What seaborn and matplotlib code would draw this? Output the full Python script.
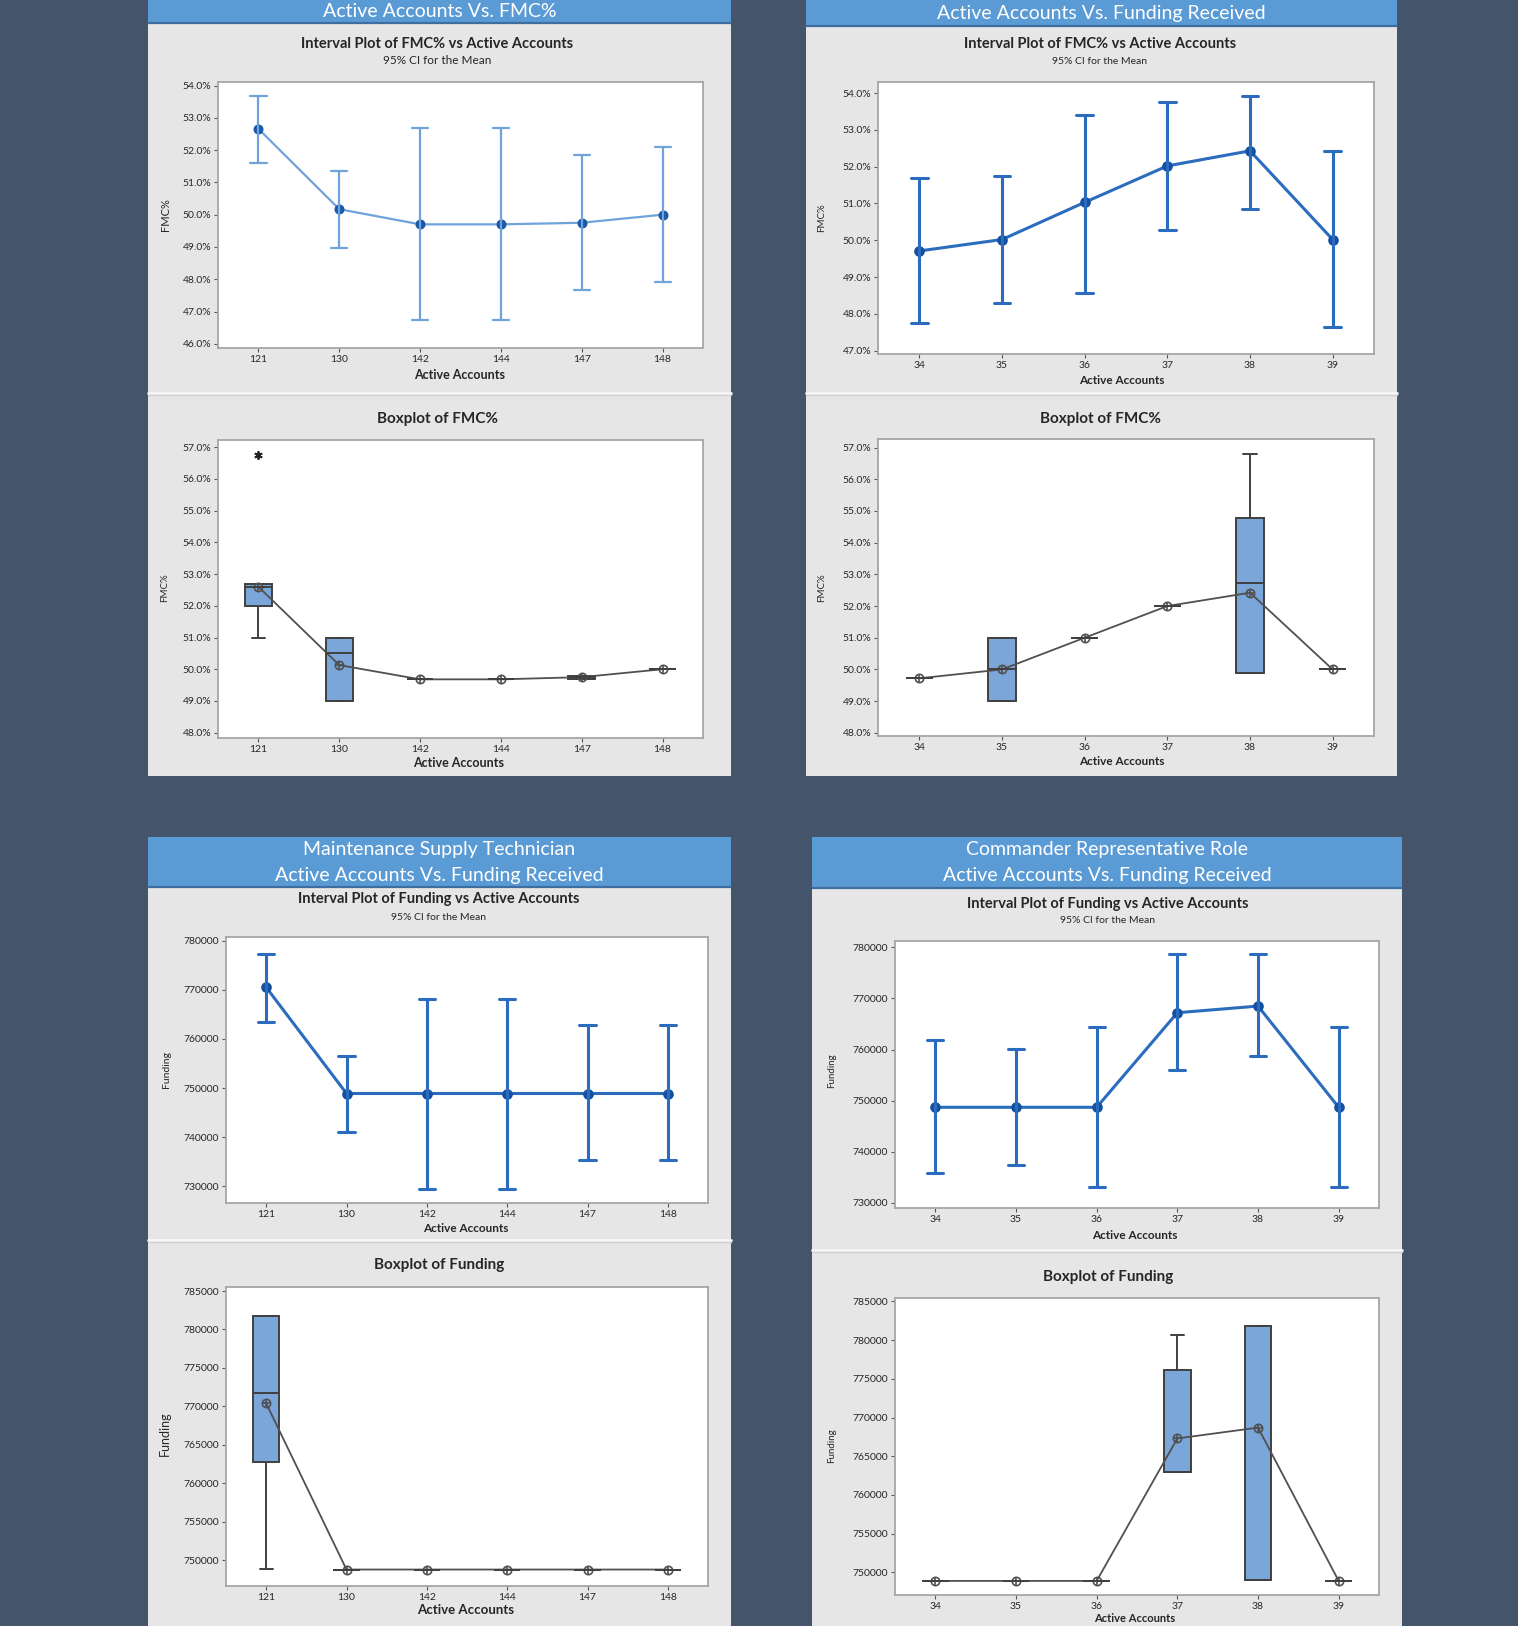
import numpy as np
import pandas as pd
import matplotlib
matplotlib.use("Agg")
import matplotlib.pyplot as plt
import seaborn as sns
from matplotlib.patches import Rectangle
from matplotlib.lines import Line2D
from matplotlib.ticker import FuncFormatter

# ------------------------------------------------------------------ data
accts_a = ["121", "130", "142", "144", "147", "148"]
accts_b = ["34", "35", "36", "37", "38", "39"]

# Interval plots (95% CI for the mean)
fmc_a_mean = [52.66, 50.17, 49.70, 49.70, 49.75, 50.00]
fmc_a_lo = [51.61, 48.96, 46.74, 46.74, 47.67, 47.92]
fmc_a_hi = [53.67, 51.36, 52.68, 52.68, 51.86, 52.11]

fmc_b_mean = [49.71, 50.02, 51.03, 52.02, 52.43, 50.02]
fmc_b_lo = [47.74, 48.29, 48.56, 50.29, 50.85, 47.63]
fmc_b_hi = [51.69, 51.74, 53.41, 53.75, 53.92, 52.42]

fund_a_mean = [770500, 748900, 748900, 748900, 748900, 748900]
fund_a_lo = [763500, 741100, 729500, 729500, 735300, 735300]
fund_a_hi = [777200, 756600, 768100, 768100, 762800, 762800]

fund_b_mean = [748700, 748700, 748700, 767200, 768500, 748700]
fund_b_lo = [735800, 737400, 733100, 755900, 758700, 733100]
fund_b_hi = [761800, 760200, 764500, 778600, 778600, 764500]

# Boxplot observations (one list per Active Accounts value) and means
fmc_a_obs = [[51.0, 52.0, 52.6, 52.7, 56.75],
             [49.0, 49.0, 50.5, 51.0, 51.0],
             [49.68],
             [49.68],
             [49.7, 49.7, 49.75, 49.8, 49.8],
             [50.0]]
fmc_a_box_mean = [52.6, 50.13, 49.68, 49.68, 49.75, 50.0]

fmc_b_obs = [[49.72],
             [49.0, 49.0, 50.0, 51.0, 51.0],
             [51.0],
             [52.0],
             [49.9, 49.9, 52.72, 54.79, 56.79],
             [50.0]]
fmc_b_box_mean = [49.72, 50.0, 51.0, 52.0, 52.42, 50.0]

fund_a_obs = [[748900, 762800, 771800, 781700, 781700],
              [748800], [748800], [748800], [748800], [748800]]
fund_a_box_mean = [770400, 748800, 748800, 748800, 748800, 748800]

fund_b_obs = [[748900], [748900], [748900],
              [763000, 763000, 763000, 776200, 780700],
              [749000, 749000, 749000, 781800, 781800],
              [748900]]
fund_b_box_mean = [748900, 748900, 748900, 767300, 768700, 748900]

# ------------------------------------------------------------------ style
W, H = 1518, 1626
BG = "#44546A"
HEAD = "#5B9BD5"
PANEL = "#E6E6E6"
BOXFILL = "#7BA6DA"
BOXEDGE = "#404040"
MEANLINE = "#505050"
TXT = "#262626"

sns.set_theme(style="white")
plt.rcParams["font.family"] = ["Lato", "DejaVu Sans"]

fig = plt.figure(figsize=(W / 100, H / 100), dpi=100, facecolor=BG)


def frect(x0, y0, x1, y1):
    return [x0 / W, 1 - y1 / H, (x1 - x0) / W, (y1 - y0) / H]


def ftext(x, y, s, **kw):
    kw.setdefault("ha", "center")
    kw.setdefault("va", "center")
    fig.text(x / W, 1 - y / H, s, **kw)


def hline(x0, x1, y, color, lw):
    fig.add_artist(Line2D([x0 / W, x1 / W], [1 - y / H, 1 - y / H],
                          color=color, lw=lw, transform=fig.transFigure))


def panel(x0, x1, y0, yhead, y1, divider, head_lines, head_ys):
    fig.add_artist(Rectangle((x0 / W, 1 - y1 / H), (x1 - x0) / W, (y1 - yhead) / H,
                             transform=fig.transFigure, facecolor=PANEL,
                             edgecolor="none", zorder=0))
    fig.add_artist(Rectangle((x0 / W, 1 - yhead / H), (x1 - x0) / W, (yhead - y0) / H,
                             transform=fig.transFigure, facecolor=HEAD,
                             edgecolor="none", zorder=0))
    hline(x0, x1, yhead, "#3E6E9F", 1.6)
    hline(x0, x1, divider, "#F6F6F6", 2.0)
    hline(x0, x1, divider + 2, "#CFCFCF", 1.0)
    cx = (x0 + x1) / 2
    for s, yy in zip(head_lines, head_ys):
        ftext(cx, yy, s, color="white", fontsize=14)


pct_fmt = FuncFormatter(lambda v, p: f"{v:.1f}%")
num_fmt = FuncFormatter(lambda v, p: f"{v:.0f}")


def style_ax(ax, ylim, yticks, fmt):
    ax.set_facecolor("white")
    ax.set_xlim(-0.5, 5.5)
    ax.set_ylim(*ylim)
    ax.set_yticks(yticks)
    ax.yaxis.set_major_formatter(fmt)
    ax.set_xlabel("")
    ax.set_ylabel("")
    ax.grid(False)
    for s in ax.spines.values():
        s.set_color("#A6A6A6")
        s.set_linewidth(1.3)
    ax.tick_params(axis="both", length=3, width=0.8, color="#555555",
                   labelsize=7.5, labelcolor=TXT, pad=2, bottom=True, left=True)


def interval_ax(rect, cats, lo, mean, hi, ylim, yticks, fmt, lcolor, mcolor, lw):
    ax = fig.add_axes(frect(*rect))
    df = pd.DataFrame({
        "acct": np.repeat(cats, 3),
        "val": np.column_stack([lo, mean, hi]).ravel(),
    })
    sns.pointplot(data=df, x="acct", y="val", order=cats, estimator="median",
                  errorbar=("pi", 100), capsize=0.2, color=lcolor, markers="o",
                  markersize=6, markerfacecolor=mcolor, markeredgecolor=mcolor,
                  linewidth=lw, err_kws={"linewidth": lw, "color": lcolor}, ax=ax)
    style_ax(ax, ylim, yticks, fmt)
    return ax


def box_ax(rect, cats, obs, means, ylim, yticks, fmt):
    ax = fig.add_axes(frect(*rect))
    df = pd.DataFrame({
        "acct": np.concatenate([[c] * len(o) for c, o in zip(cats, obs)]),
        "val": np.concatenate(obs),
    })
    sns.boxplot(data=df, x="acct", y="val", order=cats, color=BOXFILL,
                saturation=1, linecolor=BOXEDGE, linewidth=1.4, width=0.33,
                flierprops={"marker": (6, 2, 0), "markeredgecolor": "#222222",
                            "markersize": 6, "markeredgewidth": 1.3},
                ax=ax)
    sns.pointplot(x=cats, y=means, order=cats, color=MEANLINE, markers="o",
                  markersize=6, markerfacecolor="none", markeredgewidth=1.2,
                  linewidth=1.3, errorbar=None, ax=ax)
    sns.pointplot(x=cats, y=means, order=cats, color=MEANLINE, markers="+",
                  linestyles="none", markersize=6, markeredgewidth=1.2,
                  errorbar=None, ax=ax)
    style_ax(ax, ylim, yticks, fmt)
    return ax


# ------------------------------------------------------------------ panels
panel(148, 731, 0, 23, 776, 393, ["Active Accounts Vs. FMC%"], [11.5])
panel(806, 1397, 0, 26, 776, 393, ["Active Accounts Vs. Funding Received"], [13])
panel(148, 731, 837, 887, 1626, 1240,
      ["Maintenance Supply Technician", "Active Accounts Vs. Funding Received"], [849, 875])
panel(812, 1402, 837, 888, 1626, 1250,
      ["Commander Representative Role", "Active Accounts Vs. Funding Received"], [849, 875])

# ---- top-left
interval_ax((218, 82, 703, 348), accts_a, fmc_a_lo, fmc_a_mean, fmc_a_hi,
            (45.87, 54.11), np.arange(46, 55, 1), pct_fmt, "#6FA3D9", "#1C58A8", 1.6)
box_ax((218, 440, 703, 738), accts_a, fmc_a_obs, fmc_a_box_mean,
       (47.83, 57.23), np.arange(48, 58, 1), pct_fmt)
ftext(437, 43.5, "Interval Plot of FMC% vs Active Accounts", fontsize=10.5, fontweight="bold", color=TXT)
ftext(437, 61, "95% CI for the Mean", fontsize=8.5, color=TXT)
ftext(437, 419, "Boxplot of FMC%", fontsize=11, fontweight="bold", color=TXT)
ftext(460, 375, "Active Accounts", fontsize=9, fontweight="bold", color=TXT)
ftext(459, 763, "Active Accounts", fontsize=9, fontweight="bold", color=TXT)
ftext(166, 215, "FMC%", fontsize=8, rotation=90, color=TXT)
ftext(165, 588, "FMC%", fontsize=7, rotation=90, color=TXT)

# ---- top-right
interval_ax((878, 82, 1374, 354), accts_b, fmc_b_lo, fmc_b_mean, fmc_b_hi,
            (46.91, 54.30), np.arange(47, 55, 1), pct_fmt, "#2B6CBF", "#1350A0", 2.2)
box_ax((878, 439, 1374, 736), accts_b, fmc_b_obs, fmc_b_box_mean,
       (47.9, 57.27), np.arange(48, 58, 1), pct_fmt)
ftext(1100, 44, "Interval Plot of FMC% vs Active Accounts", fontsize=10.5, fontweight="bold", color=TXT)
ftext(1100, 62, "95% CI for the Mean", fontsize=7.5, color=TXT)
ftext(1100, 419, "Boxplot of FMC%", fontsize=11, fontweight="bold", color=TXT)
ftext(1122, 380, "Active Accounts", fontsize=8.5, fontweight="bold", color=TXT)
ftext(1122, 761, "Active Accounts", fontsize=8.5, fontweight="bold", color=TXT)
ftext(822, 218, "FMC%", fontsize=7, rotation=90, color=TXT)
ftext(822, 588, "FMC%", fontsize=7, rotation=90, color=TXT)

# ---- bottom-left
interval_ax((226, 937, 708, 1203), accts_a, fund_a_lo, fund_a_mean, fund_a_hi,
            (726630, 780730), np.arange(730000, 780001, 10000), num_fmt, "#2B6CBF", "#1350A0", 2.2)
box_ax((226, 1287, 708, 1586), accts_a, fund_a_obs, fund_a_box_mean,
       (746660, 785520), np.arange(750000, 785001, 5000), num_fmt)
ftext(439, 899, "Interval Plot of Funding vs Active Accounts", fontsize=10.5, fontweight="bold", color=TXT)
ftext(439, 917, "95% CI for the Mean", fontsize=7.5, color=TXT)
ftext(439, 1265, "Boxplot of Funding", fontsize=11, fontweight="bold", color=TXT)
ftext(466, 1228, "Active Accounts", fontsize=8.5, fontweight="bold", color=TXT)
ftext(466, 1610, "Active Accounts", fontsize=9.5, fontweight="bold", color=TXT)
ftext(166, 1069, "Funding", fontsize=7.5, rotation=90, color=TXT)
ftext(165, 1434, "Funding", fontsize=9, rotation=90, color=TXT)

# ---- bottom-right
interval_ax((895, 941, 1379, 1208), accts_b, fund_b_lo, fund_b_mean, fund_b_hi,
            (729000, 781230), np.arange(730000, 780001, 10000), num_fmt, "#2B6CBF", "#1350A0", 2.2)
box_ax((895, 1298, 1379, 1595), accts_b, fund_b_obs, fund_b_box_mean,
       (747080, 785440), np.arange(750000, 785001, 5000), num_fmt)
ftext(1108, 904, "Interval Plot of Funding vs Active Accounts", fontsize=10.5, fontweight="bold", color=TXT)
ftext(1108, 920, "95% CI for the Mean", fontsize=7.5, color=TXT)
ftext(1108, 1277, "Boxplot of Funding", fontsize=11, fontweight="bold", color=TXT)
ftext(1135, 1235, "Active Accounts", fontsize=8.5, fontweight="bold", color=TXT)
ftext(1135, 1624, "Active Accounts", fontsize=8, fontweight="bold", color=TXT, va="bottom")
ftext(832, 1071, "Funding", fontsize=7, rotation=90, color=TXT)
ftext(832, 1446, "Funding", fontsize=7, rotation=90, color=TXT)

fig.savefig("out.png", dpi=100, facecolor=BG)
